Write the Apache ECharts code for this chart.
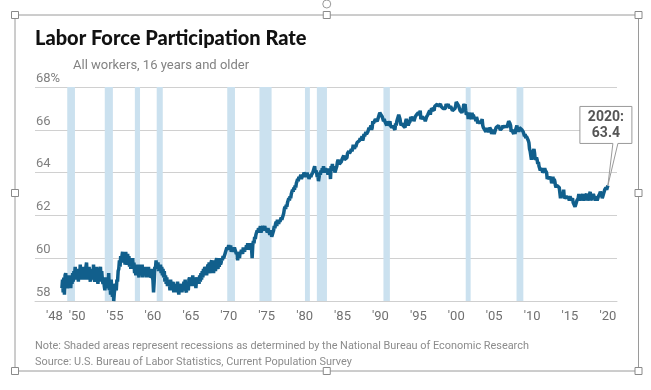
<!DOCTYPE html>
<html><head><meta charset="utf-8">
<script src="https://cdn.jsdelivr.net/npm/echarts@6/dist/echarts.min.js"></script>
<style>html,body{margin:0;padding:0;background:#fff}#c{width:651px;height:390px}</style>
</head><body><div id="c"></div>
<script>
// ---- data (monthly labor force participation rate, %, Jan 1948 - Jan 2020) ----
const startYear = 1948;
const rate = [
58.6,59.0,58.4,59.1,58.3,59.2,59.3,58.8,59.0,58.6,58.8,59.2, // 1948
58.7,59.1,58.6,59.2,58.8,59.3,58.9,59.4,59.2,59.6,59.0,59.4, // 1949
59.1,59.5,58.9,59.5,59.0,59.7,59.1,59.5,59.0,59.6,59.2,59.4, // 1950
59.2,59.0,59.6,59.8,59.1,59.5,59.0,59.6,59.2,58.9,59.5,59.1, // 1951
59.5,59.0,59.7,59.1,58.9,59.4,59.0,59.6,59.1,58.8,59.4,59.0, // 1952
59.3,59.6,58.9,59.4,59.0,58.8,59.1,58.7,58.5,59.0,58.6,59.1, // 1953
58.8,58.6,59.3,58.5,58.9,58.3,59.0,58.5,58.2,58.8,58.0,58.4, // 1954
58.4,58.8,58.5,59.0,58.9,59.4,59.5,59.9,59.6,60.1,59.8,60.1, // 1955
60.3,59.8,60.1,60.0,59.7,60.3,59.9,59.7,60.2,59.8,60.1,59.6, // 1956
60.0,59.5,59.9,59.6,60.0,59.5,59.8,59.3,59.6,59.2,59.7,59.3, // 1957
59.5,59.3,59.1,59.7,59.2,59.6,59.3,59.7,59.1,59.5,59.2,59.6, // 1958
59.2,59.6,59.1,59.5,59.2,59.6,59.1,59.5,59.2,59.1,59.5,59.1, // 1959
59.0,58.4,58.9,59.6,59.5,59.9,59.5,59.6,59.8,59.4,59.7,59.4, // 1960
59.7,59.3,59.6,59.2,59.5,59.1,59.4,58.9,59.2,58.8,59.1,58.7, // 1961
58.9,58.7,58.8,58.5,59.0,58.6,58.9,58.5,58.9,58.4,58.8,58.5, // 1962
58.8,58.4,58.7,58.9,58.5,58.3,58.8,58.4,58.7,58.8,58.4,58.7, // 1963
58.5,58.9,58.6,59.0,58.5,58.4,58.9,58.6,58.5,59.0,59.1,58.7, // 1964
59.0,58.9,58.7,59.2,58.8,59.1,58.7,59.0,58.6,59.0,59.1,58.8, // 1965
59.1,58.8,59.2,58.9,59.3,59.0,59.4,59.1,59.5,59.2,59.6,59.3, // 1966
59.6,59.2,59.5,59.7,59.4,59.8,59.5,59.3,59.8,59.9,59.5,59.9, // 1967
59.3,59.7,59.8,59.4,59.9,60.0,59.6,59.5,59.9,59.6,60.0,59.7, // 1968
59.8,60.0,59.9,60.1,60.0,60.1,60.2,60.3,60.4,60.5,60.4,60.5, // 1969
60.6,60.5,60.4,60.6,60.3,60.4,60.5,60.3,60.4,60.5,60.4,60.3, // 1970
60.2,60.3,59.9,60.1,60.2,60.0,60.3,60.2,60.4,60.3,60.2,60.5, // 1971
60.4,60.3,60.5,60.4,60.6,60.4,60.7,60.5,60.6,60.4,60.5,60.7, // 1972
60.5,60.0,60.6,60.8,60.7,61.0,60.9,61.1,61.2,61.3,61.2,61.4, // 1973
61.4,61.3,61.5,61.2,61.3,61.4,61.5,61.3,61.4,61.5,61.3,61.4, // 1974
61.3,61.2,61.4,61.3,61.2,61.1,61.3,61.2,61.0,61.1,61.2,61.3, // 1975
61.5,61.4,61.6,61.7,61.5,61.8,61.7,61.6,61.8,61.7,61.8,61.9, // 1976
61.8,61.9,62.0,62.1,62.3,62.4,62.3,62.5,62.4,62.6,62.7,62.8, // 1977
62.7,62.9,62.8,63.0,63.1,63.2,63.1,63.3,63.2,63.4,63.3,63.5, // 1978
63.6,63.7,63.6,63.8,63.7,63.8,63.9,63.7,63.8,63.9,63.8,64.0, // 1979
64.0,63.9,63.8,63.9,64.0,63.8,63.9,63.7,63.8,63.9,63.8,63.9, // 1980
63.9,64.0,64.1,64.2,64.3,64.0,64.1,64.0,63.8,63.9,63.6,63.8, // 1981
64.0,63.9,64.1,64.0,64.2,64.1,64.3,64.0,64.1,64.2,64.1,64.0, // 1982
64.1,63.9,64.2,64.0,64.1,63.7,64.3,64.2,64.4,64.1,64.2,64.3, // 1983
64.0,64.1,64.2,64.3,64.5,64.6,64.5,64.4,64.4,64.4,64.5,64.6, // 1984
64.6,64.6,64.8,64.6,64.6,64.6,64.6,64.7,64.9,64.9,65.0,64.9, // 1985
64.9,65.0,65.1,65.0,65.1,65.3,65.2,65.1,65.3,65.2,65.3,65.4, // 1986
65.4,65.4,65.4,65.5,65.6,65.5,65.6,65.7,65.5,65.6,65.8,65.7, // 1987
65.7,65.9,65.8,65.8,65.9,65.9,66.1,66.0,66.0,66.2,66.0,66.1, // 1988
66.4,66.3,66.3,66.3,66.5,66.5,66.5,66.4,66.5,66.6,66.6,66.8, // 1989
66.8,66.7,66.7,66.6,66.6,66.4,66.5,66.4,66.4,66.4,66.2,66.4, // 1990
66.2,66.2,66.3,66.4,66.2,66.2,66.1,66.1,66.2,66.1,66.1,66.0, // 1991
66.3,66.2,66.4,66.5,66.6,66.7,66.6,66.5,66.3,66.2,66.3,66.3, // 1992
66.2,66.2,66.2,66.1,66.4,66.5,66.4,66.4,66.2,66.3,66.3,66.4, // 1993
66.6,66.6,66.5,66.5,66.6,66.4,66.4,66.6,66.6,66.7,66.7,66.7, // 1994
66.8,66.8,66.7,66.9,66.5,66.5,66.6,66.6,66.6,66.6,66.5,66.4, // 1995
66.4,66.6,66.6,66.7,66.7,66.7,66.9,66.7,66.9,67.0,67.0,67.0, // 1996
67.0,66.9,67.1,67.1,67.1,67.1,67.2,67.1,67.1,67.1,67.1,67.2, // 1997
67.1,67.1,67.1,67.0,67.0,67.0,67.0,67.0,67.2,67.2,67.1,67.2, // 1998
67.2,67.2,67.0,67.1,67.1,67.1,66.9,66.9,66.9,66.9,67.0,67.1, // 1999
67.3,67.3,67.3,67.3,67.1,67.1,66.9,66.9,66.9,66.8,66.9,67.0, // 2000
67.2,67.1,67.2,66.9,66.7,66.7,66.8,66.5,66.8,66.7,66.7,66.7, // 2001
66.5,66.8,66.6,66.7,66.6,66.5,66.6,66.4,66.6,66.5,66.3,66.4, // 2002
66.4,66.3,66.4,66.3,66.4,66.5,66.2,66.1,66.1,66.1,66.1,65.9, // 2003
66.1,66.0,66.0,65.9,66.0,66.1,66.1,66.0,65.8,65.9,66.0,65.9, // 2004
65.8,65.9,65.9,66.1,66.1,66.1,66.1,66.2,66.1,66.1,66.0,66.0, // 2005
66.0,66.1,66.2,66.1,66.1,66.2,66.1,66.2,66.1,66.2,66.3,66.4, // 2006
66.4,66.3,66.2,65.9,66.0,66.0,66.0,65.8,66.0,65.8,66.0,66.0, // 2007
66.2,66.0,66.1,65.9,66.1,66.1,66.1,66.1,66.0,66.0,65.9,65.8, // 2008
65.7,65.8,65.6,65.7,65.7,65.7,65.5,65.4,65.1,65.0,65.0,64.6, // 2009
64.8,64.9,64.9,65.1,64.9,64.6,64.6,64.7,64.6,64.4,64.5,64.3, // 2010
64.2,64.1,64.2,64.2,64.1,64.0,64.0,64.1,64.2,64.1,64.1,64.0, // 2011
63.7,63.8,63.8,63.7,63.8,63.8,63.7,63.5,63.6,63.8,63.6,63.7, // 2012
63.6,63.4,63.3,63.4,63.4,63.4,63.4,63.3,63.3,62.8,63.0,62.9, // 2013
62.9,63.0,63.2,62.8,62.8,62.8,62.9,62.9,62.8,62.9,62.9,62.7, // 2014
62.9,62.8,62.7,62.7,62.8,62.6,62.6,62.6,62.4,62.5,62.5,62.7, // 2015
62.7,62.8,63.0,62.8,62.7,62.8,62.8,62.9,63.0,62.8,62.7,62.7, // 2016
62.9,62.9,63.0,62.9,62.7,62.8,62.9,62.9,63.1,62.7,62.7,62.7, // 2017
62.7,63.0,62.9,62.8,62.7,62.9,62.9,62.7,62.7,62.9,62.9,63.0, // 2018
63.1,63.1,63.0,62.8,62.9,63.0,63.0,63.2,63.2,63.3,63.2,63.2, // 2019
63.4                                                          // 2020
];
// recession periods (decimal years, start/end)
const recessionStart = [1948.70,1953.65,1957.62,1960.50,1969.80,1974.05,1980.05,1981.62,1990.40,2001.25,2007.95];
const recessionEnd   = [1949.72,1954.72,1958.30,1961.30,1970.82,1975.65,1980.70,1982.95,1991.25,2001.90,2008.85];
// axis ticks and labels
const xTickValues = [1948,1950,1955,1960,1965,1970,1975,1980,1985,1990,1995,2000,2005,2010,2015,2020];
const xTickLabels = ["'48","'50","'55","'60","'65","'70","'75","'80","'85","'90","'95","'00","'05","'10","'15","'20"];
const yTickValues = [58,60,62,64,66,68];
const yTickLabels = ['58','60','62','64','66','68%'];
const titleText = 'Labor Force Participation Rate';
const subtitleText = 'All workers, 16 years and older';
const noteText = 'Note: Shaded areas represent recessions as determined by the National Bureau of Economic Research';
const sourceText = 'Source: U.S. Bureau of Labor Statistics, Current Population Survey';
const lastLabelYear = 2020;

// ---- chart ----
const seriesData = rate.map((v, i) => [startYear + i / 12, v]);
const chart = echarts.init(document.getElementById('c'), null, {renderer: 'canvas'});
const FONT = 'Roboto, "Noto Sans", sans-serif';

chart.setOption({
  animation: false,
  backgroundColor: '#ffffff',
  grid: {left: 35, right: 34, top: 87, bottom: 89, containLabel: false},
  xAxis: {
    type: 'value', min: 1944.45, max: 2021.2,
    splitLine: {show: false},
    axisLine: {show: true, lineStyle: {color: '#cfcfcf', width: 1}},
    axisTick: {show: false},
    axisLabel: {
      customValues: xTickValues,
      margin: 9,
      color: '#707070', fontFamily: FONT, fontSize: 13,
      formatter: function (v) {
        const i = xTickValues.indexOf(Math.round(v));
        if (i === 0) return '{s|' + xTickLabels[i] + '}';
        return i >= 0 ? xTickLabels[i] : '';
      },
      rich: {s: {color: '#707070', fontFamily: FONT, fontSize: 13, padding: [0, 15, 0, 0]}}
    }
  },
  yAxis: {
    type: 'value', min: 58, max: 68, interval: 2,
    axisLine: {show: false}, axisTick: {show: false},
    splitLine: {show: true, lineStyle: {color: '#d0d0d0', width: 1}},
    axisLabel: {
      inside: true, margin: 1, verticalAlign: 'bottom', padding: [0, 0, 2, 0],
      color: '#808080', fontFamily: FONT, fontSize: 13,
      formatter: function (v) {
        const i = yTickValues.indexOf(v);
        return i >= 0 ? yTickLabels[i] : '';
      }
    }
  },
  series: [{
    type: 'line',
    data: seriesData,
    showSymbol: false,
    symbol: 'none',
    lineStyle: {color: '#115f8c', width: 3.5},
    z: 3,
    markArea: {
      silent: true,
      itemStyle: {color: '#cbe1ef'},
      data: recessionStart.map((s, i) => [{xAxis: s}, {xAxis: recessionEnd[i]}])
    }
  }]
});

// annotation + texts + frame
const last = seriesData[seriesData.length - 1];
const tip = chart.convertToPixel({gridIndex: 0}, last);
const bx = tip[0] - 28, by = tip[1] - 79, bw = 52, bh = 37;
const calloutPts = [[bx, by], [bx + bw, by], [bx + bw, by + bh], [tip[0] + 10, by + bh], [tip[0], tip[1]], [tip[0] + 5, by + bh], [bx, by + bh]];

const handle = (x, y) => ({type: 'rect', shape: {x: x - 3.5, y: y - 3.5, width: 7, height: 7}, style: {fill: '#fff', stroke: '#8a8a8a', lineWidth: 1}, z: 20});
const FL = 15, FR = 638.5, FT = 15, FB = 371, FM = (FL + FR) / 2, FMY = (FT + FB) / 2;

chart.setOption({
  graphic: [
    {type: 'rect', shape: {x: FL, y: FT, width: FR - FL, height: FB - FT}, style: {fill: 'none', stroke: '#9a9a9a', lineWidth: 1}, z: 19, silent: true},
    handle(FL, FT), handle(FM, FT), handle(FR, FT),
    handle(FL, FMY), handle(FR, FMY),
    handle(FL, FB), handle(FM, FB), handle(FR, FB),
    {type: 'circle', shape: {cx: FM, cy: 4, r: 4}, style: {fill: 'none', stroke: '#9a9a9a', lineWidth: 1}, z: 20},
    {type: 'text', x: 35, y: 39, style: {text: titleText, font: '900 20px Lato, "Noto Sans", sans-serif', fill: '#111111', verticalAlign: 'middle', align: 'left'}, z: 10},
    {type: 'text', x: 73, y: 66, style: {text: subtitleText, font: '13px ' + FONT, fill: '#828282', verticalAlign: 'middle', align: 'left'}, z: 10},
    {type: 'text', x: 35, y: 346.5, style: {text: noteText, font: '10.9px ' + FONT, fill: '#8c8c8c', verticalAlign: 'middle', align: 'left'}, z: 10},
    {type: 'text', x: 35, y: 362.5, style: {text: sourceText, font: '10.9px ' + FONT, fill: '#8c8c8c', verticalAlign: 'middle', align: 'left'}, z: 10},
    {type: 'polygon', shape: {points: calloutPts}, style: {fill: '#ffffff', stroke: '#9a9a9a', lineWidth: 1}, z: 12},
    {type: 'text', x: bx + bw / 2, y: by + 11.5, style: {text: lastLabelYear + ':', font: 'bold 14px ' + FONT, fill: '#555555', align: 'center', verticalAlign: 'middle'}, z: 13},
    {type: 'text', x: bx + bw / 2, y: by + 27, style: {text: last[1].toFixed(1), font: 'bold 14px ' + FONT, fill: '#555555', align: 'center', verticalAlign: 'middle'}, z: 13}
  ]
});
</script>
</body></html>
